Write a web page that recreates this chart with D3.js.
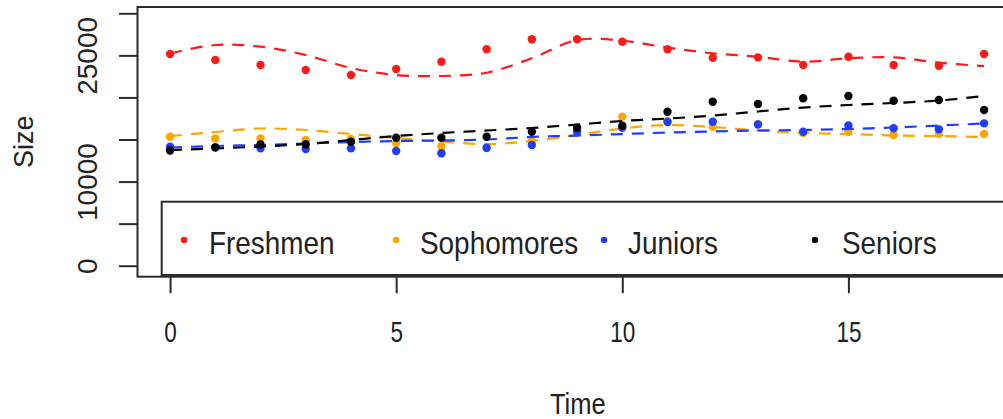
<!DOCTYPE html>
<html>
<head>
<meta charset="utf-8">
<script src="https://cdn.jsdelivr.net/npm/d3@7"></script>
<style>
  html, body { margin: 0; padding: 0; background: #fff; }
  svg { display: block; font-family: "Liberation Sans", Arial, sans-serif; }
</style>
</head>
<body>
<svg id="chart" width="1003" height="419"></svg>
<script>
// Class sizes over time, observed values and smoothed trends
const time = [0, 1, 2, 3, 4, 5, 6, 7, 8, 9, 10, 11, 12, 13, 14, 15, 16, 17, 18];

const freshmen   = [25160, 24450, 23850, 23260, 22660, 23380, 24250, 25720, 26910, 26910, 26620, 25720, 24720, 24760, 23850, 24840, 23850, 23770, 25160];
const sophomores = [15330, 15140, 15140, 14940, 15060, 14580, 14170, 13990, 14820, 16130, 17710, 17200, 16520, 16840, 15770, 15930, 15530, 15650, 15650];
const juniors    = [14140, 14050, 13950, 13870, 13950, 13630, 13360, 14020, 14350, 15890, 16400, 17080, 17110, 16780, 15930, 16660, 16330, 16210, 16920];
const seniors    = [13690, 14070, 14400, 14430, 14740, 15210, 15210, 15330, 15930, 16400, 16640, 18300, 19490, 19220, 19900, 20170, 19610, 19690, 18500];

const freshmenTrend   = [25240, 26230, 26030, 25040, 23500, 22660, 22550, 22940, 24650, 26820, 26740, 25930, 25240, 24840, 24250, 24650, 24770, 24130, 23730];
const sophomoresTrend = [15410, 15890, 16310, 16130, 15650, 15180, 14760, 14460, 14820, 15530, 16310, 16720, 16480, 16070, 15770, 15650, 15470, 15410, 15300];
const juniorsTrend    = [14050, 14230, 14350, 14520, 14700, 14820, 14880, 15000, 15300, 15470, 15650, 15830, 15950, 16070, 16130, 16250, 16430, 16660, 16900];
const seniorsTrend    = [13750, 13930, 14170, 14460, 14940, 15420, 15770, 16070, 16370, 16780, 17200, 17490, 17850, 18330, 18800, 19100, 19340, 19630, 20170];

const seriesNames  = ["Freshmen", "Sophomores", "Juniors", "Seniors"];
const seriesColors = ["#ff1a1a", "#ffa500", "#1f3dff", "#000000"];

const xTicks = [0, 5, 10, 15];
const yTicks = [0, 5000, 10000, 15000, 20000, 25000, 30000];
const yTickLabels = ["0", "", "10000", "", "", "25000", ""];

const series = [
  { name: seriesNames[0], color: seriesColors[0], values: freshmen,   trend: freshmenTrend },
  { name: seriesNames[1], color: seriesColors[1], values: sophomores, trend: sophomoresTrend },
  { name: seriesNames[2], color: seriesColors[2], values: juniors,    trend: juniorsTrend },
  { name: seriesNames[3], color: seriesColors[3], values: seniors,    trend: seniorsTrend }
];

const svg = d3.select("#chart");

// plot region (right edge runs past the window)
const box = { left: 137.5, top: 7, right: 1018, bottom: 276.7 };

const x = d3.scaleLinear().domain([-0.72, 18.75]).range([box.left, box.right]);
const y = d3.scaleLinear().domain([-1307, 30750]).range([box.bottom, box.top]);

const frameColor = "#2b2b2b";

// y axis
const yAxis = d3.axisLeft(y)
  .tickValues(yTicks)
  .tickSize(18.5)
  .tickFormat((d, i) => yTickLabels[i]);
const gy = svg.append("g").attr("transform", `translate(${box.left},0)`).call(yAxis);
gy.select(".domain").remove();
gy.selectAll(".tick line").attr("stroke", frameColor).attr("stroke-width", 2);
gy.selectAll(".tick text")
  .attr("x", null).attr("dy", null)
  .attr("transform", "translate(-41,0) rotate(-90)")
  .attr("text-anchor", "middle")
  .attr("fill", "#222")
  .style("font-size", "28px");

// x axis
const xAxis = d3.axisBottom(x).tickValues(xTicks).tickSize(16.5).tickFormat(d3.format("d"));
const gx = svg.append("g").attr("transform", `translate(0,${box.bottom})`).call(xAxis);
gx.select(".domain").remove();
gx.selectAll(".tick line").attr("stroke", frameColor).attr("stroke-width", 2);
gx.selectAll(".tick text")
  .attr("y", null).attr("dy", null)
  .attr("transform", "translate(0,65) scale(0.75,1)")
  .attr("fill", "#222")
  .style("font-size", "30px");

// axis titles
svg.append("text")
  .attr("transform", `translate(${(box.left + box.right) / 2},414) scale(0.85,1)`)
  .attr("text-anchor", "middle")
  .attr("fill", "#222")
  .style("font-size", "30px")
  .text("Time");

svg.append("text")
  .attr("transform", `translate(33,${(box.top + box.bottom) / 2}) rotate(-90)`)
  .attr("text-anchor", "middle")
  .attr("fill", "#222")
  .style("font-size", "27px")
  .text("Size");

// data layer clipped to the plot box
svg.append("clipPath").attr("id", "plotclip")
  .append("rect")
  .attr("x", box.left).attr("y", box.top)
  .attr("width", box.right - box.left).attr("height", box.bottom - box.top);

const plot = svg.append("g").attr("clip-path", "url(#plotclip)");

const trendLine = d3.line()
  .x((d, i) => x(time[i]))
  .y(d => y(d))
  .curve(d3.curveCatmullRom.alpha(0.5));

series.forEach(s => {
  const g = plot.append("g");
  g.selectAll("circle")
    .data(s.values)
    .join("circle")
    .attr("cx", (d, i) => x(time[i]))
    .attr("cy", d => y(d))
    .attr("r", 4.2)
    .attr("fill", s.color);
  g.append("path")
    .datum(s.trend)
    .attr("d", trendLine)
    .attr("fill", "none")
    .attr("stroke", s.color)
    .attr("stroke-width", 2.2)
    .attr("stroke-dasharray", "12,9");
});

// legend
const legendBox = { left: 161.7, top: 201.7, right: 1030, bottom: 275 };
svg.append("rect")
  .attr("x", legendBox.left).attr("y", legendBox.top)
  .attr("width", legendBox.right - legendBox.left)
  .attr("height", legendBox.bottom - legendBox.top)
  .attr("fill", "#fff")
  .attr("stroke", frameColor)
  .attr("stroke-width", 2);

const legendDotX  = [184, 396, 604, 815];
const legendTextX = [209, 420, 628, 842];
const legend = svg.append("g");
series.forEach((s, i) => {
  legend.append("circle")
    .attr("cx", legendDotX[i]).attr("cy", 240)
    .attr("r", 3.2)
    .attr("fill", s.color);
  legend.append("text")
    .attr("transform", `translate(${legendTextX[i]},254) scale(0.9,1)`)
    .attr("fill", "#222")
    .style("font-size", "31px")
    .text(s.name);
});

// plot frame
svg.append("rect")
  .attr("x", box.left).attr("y", box.top)
  .attr("width", box.right - box.left)
  .attr("height", box.bottom - box.top)
  .attr("fill", "none")
  .attr("stroke", frameColor)
  .attr("stroke-width", 2);
</script>
</body>
</html>
